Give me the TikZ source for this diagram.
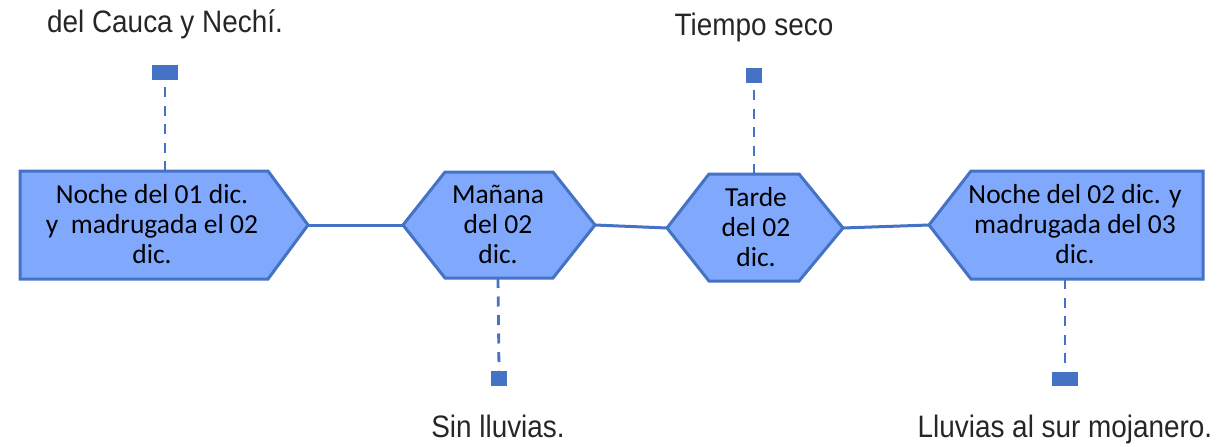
\documentclass[tikz,border=0pt]{standalone}
\usepackage{fontspec}
\setmainfont{Carlito}
\newfontfamily\narrowfont[FakeStretch=0.9]{Liberation Sans}
\definecolor{fillblue}{HTML}{80A9FE}
\definecolor{edgeblue}{HTML}{4472C4}
\definecolor{notegray}{HTML}{262626}
\begin{document}
\begin{tikzpicture}[x=1pt,y=-1pt,
  shp/.style={draw=edgeblue, fill=fillblue, line width=3pt, line join=miter},
  conn/.style={draw=edgeblue, line width=3pt},
  stub/.style={draw=edgeblue, line width=2.8pt, dash pattern=on 10pt off 8.5pt},
  sq/.style={fill=edgeblue, draw=none, inner sep=0, outer sep=0},
  lbl/.style={font=\fontsize{27.5}{30}\selectfont, align=center, text=black, inner sep=0},
  note/.style={font=\narrowfont\fontsize{31}{34}\selectfont, text=notegray, inner sep=0, anchor=base}]
\useasboundingbox (0,0) rectangle (1229,447);

% shapes
\draw[shp] (20,171) -- (268,171) -- (308,225) -- (268,279) -- (20,279) -- cycle;
\coordinate (t1) at (308,225);
\coordinate (top1) at (165,171);

\draw[shp] (403,225) -- (445,172) -- (553,172) -- (595,225) -- (553,278) -- (445,278) -- cycle;
\coordinate (l2) at (403,225);
\coordinate (r2) at (595,225);
\coordinate (bot2) at (498,278);

\draw[shp] (667,228) -- (709,174) -- (799,174) -- (843,228) -- (799,281) -- (709,281) -- cycle;
\coordinate (l3) at (667,228);
\coordinate (r3) at (843,228);
\coordinate (top3) at (754,174);

\draw[shp] (929,225) -- (971,171) -- (1203,171) -- (1203,279) -- (971,279) -- cycle;
\coordinate (l4) at (929,225);
\coordinate (bot4) at (1065,279);

% texts in shapes
\node[lbl] (n1) at (152,224) {Noche del 01 dic.\\y~ madrugada el 02\\dic.};
\node[lbl] (n2) at (498,224) {Mañana\\del 02\\dic.};
\node[lbl] (n3) at (756,227) {Tarde\\del 02\\dic.};
\node[lbl] (n4) at (1075,224) {Noche del 02 dic. y\\madrugada del 03\\dic.};

% connectors
\draw[conn] (t1) -- (l2);
\draw[conn] (r2) -- (l3);
\draw[conn] (r3) -- (l4);

% squares
\node[sq, minimum width=26pt, minimum height=15pt] (s1) at (165,72.5) {};
\node[sq, minimum width=16pt, minimum height=15pt] (s2) at (499,378) {};
\node[sq, minimum width=16pt, minimum height=15pt] (s3) at (754,75.5) {};
\node[sq, minimum width=26pt, minimum height=14pt] (s4) at (1065,379) {};

% dashed stubs
\draw[stub] (top1) -- (s1.south);
\draw[stub] (bot2) -- (s2.north);
\draw[stub] (top3) -- (s3.south);
\draw[stub] (bot4) -- (s4.north);

% notes
\node[note] (m1) at (165,32) {del Cauca y Nechí.};
\node[note] (m3) at (754,35) {Tiempo seco};
\node[note] (m2) at (498,437) {Sin lluvias.};
\node[note] (m4) at (1065,437) {Lluvias al sur mojanero.};
\end{tikzpicture}
\end{document}
